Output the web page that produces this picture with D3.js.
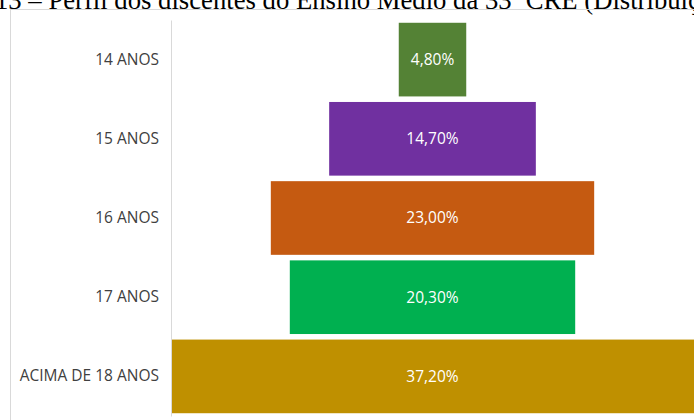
<!DOCTYPE html>
<html>
<head>
<meta charset="utf-8">
<script src="https://cdn.jsdelivr.net/npm/d3@7"></script>
<style>
  body { margin: 0; background: #fff; }
  svg { display: block; }
</style>
</head>
<body>
<svg id="chart" width="694" height="420"></svg>
<script>
/* Data */
var categories = ["14 ANOS", "15 ANOS", "16 ANOS", "17 ANOS", "ACIMA DE 18 ANOS"];
var values = [4.8, 14.7, 23.0, 20.3, 37.2];
var valueLabels = ["4,80%", "14,70%", "23,00%", "20,30%", "37,20%"];
var colors = ["#548235", "#7030a0", "#c55a11", "#00b050", "#bf9000"];

var svg = d3.select("#chart");

// Caption above the chart (cut off in the original picture)
svg.append("text")
    .attr("x", -5)
    .attr("y", 9)
    .attr("font-family", "'Liberation Serif', 'Times New Roman', serif")
    .attr("font-size", 26.7)
    .attr("fill", "#000")
    .text("13 – Perfil dos discentes do Ensino Médio da 33ª CRE (Distribuição por idade)");

// Chart area border
svg.append("rect")
    .attr("x", 10.5)
    .attr("y", 9.5)
    .attr("width", 700)
    .attr("height", 420)
    .attr("fill", "none")
    .attr("stroke", "#d9d9d9");

var left = 171, right = 694;
var center = (left + right) / 2;

var x = d3.scaleLinear()
    .domain([0, d3.max(values)])
    .range([0, right - left]);

var y = d3.scaleBand()
    .domain(categories)
    .range([20, 416])
    .paddingInner(0.07)
    .paddingOuter(0.035);

// Funnel bars, centered
svg.selectAll(".bar")
    .data(categories)
    .enter().append("rect")
    .attr("class", "bar")
    .attr("x", function(d, i) { return center - x(values[i]) / 2; })
    .attr("y", function(d) { return y(d); })
    .attr("width", function(d, i) { return x(values[i]); })
    .attr("height", y.bandwidth())
    .attr("fill", function(d, i) { return colors[i]; });

// Value labels inside the bars
svg.selectAll(".val")
    .data(categories)
    .enter().append("text")
    .attr("class", "val")
    .attr("x", center)
    .attr("y", function(d) { return y(d) + y.bandwidth() / 2; })
    .attr("dy", "0.35em")
    .attr("text-anchor", "middle")
    .attr("font-family", "'Open Sans', sans-serif")
    .attr("font-size", 15.5)
    .attr("fill", "#fff")
    .text(function(d, i) { return valueLabels[i]; });

// Category axis on the left
var axis = svg.append("g")
    .attr("transform", "translate(" + left + ",0)")
    .call(d3.axisLeft(y).tickSize(0).tickPadding(12));
axis.select(".domain").attr("stroke", "#d9d9d9");
axis.selectAll("text")
    .attr("font-family", "'Open Sans', sans-serif")
    .attr("font-size", 15.5)
    .attr("fill", "#404040");
</script>
</body>
</html>
